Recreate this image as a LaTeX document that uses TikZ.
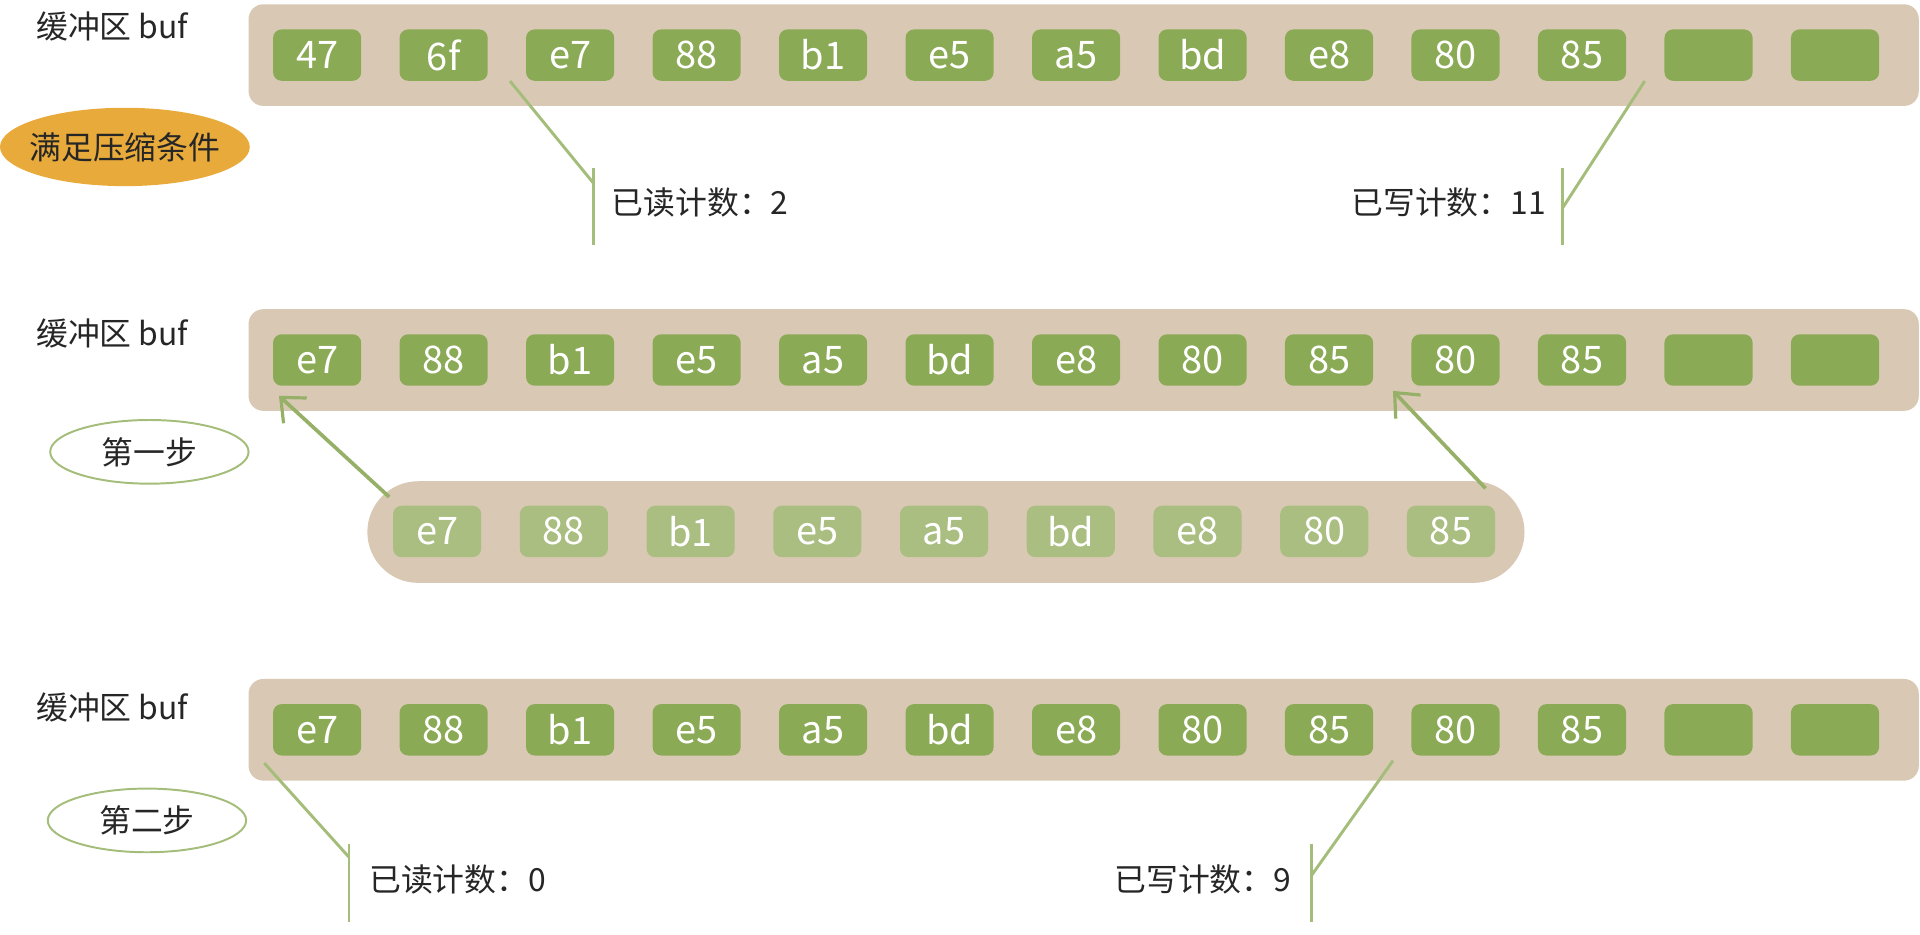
\documentclass[tikz,border=0pt]{standalone}
\usepackage{fontspec}
\setmainfont{Noto Sans CJK SC}
\usetikzlibrary{positioning,arrows.meta,shapes.geometric}
\definecolor{bandtan}{HTML}{D9C9B4}
\definecolor{cellgreen}{HTML}{8BAA55}
\definecolor{cellpale}{HTML}{A9BE80}
\definecolor{linegreen}{HTML}{A4BD7A}
\definecolor{arrowgreen}{HTML}{97B068}
\definecolor{tagorange}{HTML}{E8AA3B}
\definecolor{inkdark}{HTML}{262626}

\begin{document}
\begin{tikzpicture}[x=1pt,y=-1pt,
band/.style={rectangle,rounded corners=12pt,fill=bandtan,
  minimum width=1364pt,minimum height=83pt},
cell/.style={rectangle,rounded corners=7pt,fill=cellgreen,
  minimum width=72pt,minimum height=42pt,inner sep=0pt,
  text=white,font=\fontsize{31}{31}\selectfont},
ghost/.style={cell,fill=cellpale},
tag/.style={text=inkdark,font=\fontsize{26}{30}\selectfont},
stepmark/.style={ellipse,draw=linegreen,line width=1.6pt,
  minimum width=162pt,minimum height=52pt,tag},
pointer/.style={draw=linegreen,line width=2.4pt},
mover/.style={draw=arrowgreen,line width=3pt,
  -{Straight Barb[length=16pt,width=28pt,line width=2.6pt]}}
]
\useasboundingbox (0,0) rectangle (1568,763);

% row 1: before compaction
\node[tag,anchor=west] (buf1) at (26,22) {缓冲区 buf};
\node[band] (band1) at (885,45) {};
\foreach \v [count=\i] in {47,6f,e7,88,b1,e5,a5,bd,e8,80,85,{},{}}
  \node[cell] (a\i) at ({259+103.3*(\i-1)},45) {\v};
\node[ellipse,fill=tagorange,minimum width=204pt,minimum height=64pt,
  inner xsep=-8pt,inner ysep=0pt,tag] (cond) at (102,120) {满足压缩条件};

\coordinate (rd1) at ([xshift=18pt]a2.south east);
\coordinate (rk1) at (485,150);
\coordinate (rt1) at (485,137);
\coordinate (rb1) at (485,200);
\draw[pointer] (rd1) -- (rk1);
\draw[pointer] (rt1) -- (rb1);
\node[tag,anchor=west] (rc1) at (496,165) {已读计数：2};

\coordinate (wd1) at ([xshift=15pt]a11.south east);
\coordinate (wk1) at (1276,170);
\coordinate (wt1) at (1276,137);
\coordinate (wb1) at (1276,200);
\draw[pointer] (wd1) -- (wk1);
\draw[pointer] (wt1) -- (wb1);
\node[tag,anchor=east] (wc1) at (1266,165) {已写计数：11};

% row 2: step one, move unread bytes to the front
\node[tag,anchor=west] (buf2) at (26,272) {缓冲区 buf};
\node[band] (band2) at (885,294) {};
\foreach \v [count=\i] in {e7,88,b1,e5,a5,bd,e8,80,85,80,85,{},{}}
  \node[cell] (b\i) at ({259+103.3*(\i-1)},294) {\v};
\node[stepmark] (step1) at (122,369) {第一步};

\node[band,rounded corners=41.5pt,minimum width=945pt] (band3) at (772.5,434.5) {};
\foreach \v [count=\i] in {e7,88,b1,e5,a5,bd,e8,80,85}
  \node[ghost] (l\i) at ({357+103.5*(\i-1)},434) {\v};

\coordinate (mv1) at ([shift={(-3pt,7pt)}]l1.north west);
\coordinate (mt1) at ([shift={(5pt,-8pt)}]b1.south west);
\draw[mover] (mv1) -- (mt1);
\coordinate (mv2) at ([shift={(-8pt,14pt)}]l9.north east);
\coordinate (mt2) at ([shift={(16pt,-4pt)}]b9.south east);
\draw[mover] (mv2) -- (mt2);

% row 3: step two, reset the counters
\node[tag,anchor=west] (buf3) at (26,578) {缓冲区 buf};
\node[band] (band4) at (885,596) {};
\foreach \v [count=\i] in {e7,88,b1,e5,a5,bd,e8,80,85,80,85,{},{}}
  \node[cell] (c\i) at ({259+103.3*(\i-1)},596) {\v};
\node[stepmark] (step2) at (120,670) {第二步};

\coordinate (rd2) at ([shift={(-7pt,-6pt)}]c1.south west);
\coordinate (rk2) at (285,700);
\coordinate (rt2) at (285,689);
\coordinate (rb2) at (285,753);
\draw[pointer] (rd2) -- (rk2);
\draw[pointer] (rt2) -- (rb2);
\node[tag,anchor=west] (rc2) at (298,718) {已读计数：0};

\coordinate (wd2) at ([shift={(16pt,-4pt)}]c9.south east);
\coordinate (wk2) at (1071,715);
\coordinate (wt2) at (1071,689);
\coordinate (wb2) at (1071,753);
\draw[pointer] (wd2) -- (wk2);
\draw[pointer] (wt2) -- (wb2);
\node[tag,anchor=east] (wc2) at (1058,718) {已写计数：9};
\end{tikzpicture}
\end{document}
